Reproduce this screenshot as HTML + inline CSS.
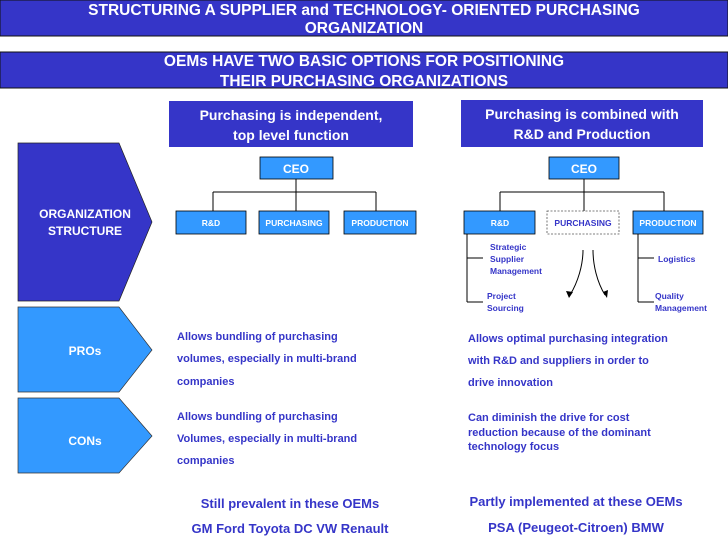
<!DOCTYPE html>
<html><head><style>
html,body{margin:0;padding:0;background:#fff}
svg{display:block;font-family:"Liberation Sans",Arial,sans-serif;font-weight:bold}
</style></head><body>
<svg width="728" height="546" viewBox="0 0 728 546" xmlns="http://www.w3.org/2000/svg">
<rect x="0" y="0" width="728" height="36" fill="#3535c8" stroke="#111" stroke-width="1"/>
<text x="364" y="15" text-anchor="middle" font-size="15.5" fill="#fff">STRUCTURING A SUPPLIER and TECHNOLOGY- ORIENTED PURCHASING</text>
<text x="364" y="33" text-anchor="middle" font-size="15.5" fill="#fff">ORGANIZATION</text>
<rect x="0" y="52" width="728" height="36" fill="#3535c8" stroke="#111" stroke-width="1"/>
<text x="364" y="66" text-anchor="middle" font-size="15.5" fill="#fff">OEMs HAVE TWO BASIC OPTIONS FOR POSITIONING</text>
<text x="364" y="86" text-anchor="middle" font-size="15.5" fill="#fff">THEIR PURCHASING ORGANIZATIONS</text>

<rect x="169" y="101" width="244" height="46" fill="#3535c8"/>
<text x="291" y="120" text-anchor="middle" font-size="14" fill="#fff">Purchasing is independent,</text>
<text x="291" y="140" text-anchor="middle" font-size="14" fill="#fff">top level function</text>
<rect x="461" y="100" width="242" height="47" fill="#3535c8"/>
<text x="582" y="119" text-anchor="middle" font-size="14" fill="#fff">Purchasing is combined with</text>
<text x="582" y="139" text-anchor="middle" font-size="14" fill="#fff">R&amp;D and Production</text>

<polygon points="18,143 119,143 152,222 119,301 18,301" fill="#3535c8" stroke="#222" stroke-width="0.7"/>
<text x="85" y="218" text-anchor="middle" font-size="12" fill="#fff">ORGANIZATION</text>
<text x="85" y="235" text-anchor="middle" font-size="12" fill="#fff">STRUCTURE</text>
<polygon points="18,307 119,307 152,350 119,392 18,392" fill="#3399ff" stroke="#333" stroke-width="0.7"/>
<text x="85" y="355" text-anchor="middle" font-size="12" fill="#fff">PROs</text>
<polygon points="18,398 119,398 152,436 119,473 18,473" fill="#3399ff" stroke="#333" stroke-width="0.7"/>
<text x="85" y="445" text-anchor="middle" font-size="12" fill="#fff">CONs</text>

<g stroke="#000" stroke-width="1" fill="none">
<path d="M296,179 V192 M213,192 H376 M213,192 V211 M296,192 V211 M376,192 V211"/>
<path d="M584,179 V192 M500,192 H664 M500,192 V211 M584,192 V211 M664,192 V211"/>
<path d="M467,234 V302 M467,258 H483 M467,302 H483"/>
<path d="M638,234 V302 M638,258 H654 M638,302 H654"/>
<path d="M583,250 C583,265 578,282 570,295 M593,250 C593,265 597,282 605,295"/>
</g>
<path d="M566,291 L569,298 L573,292 Z M603,292 L607,298 L608,290 Z" fill="#000"/>
<g fill="#3399ff" stroke="#000" stroke-width="0.8">
<rect x="260" y="157" width="73" height="22"/>
<rect x="176" y="211" width="70" height="23"/>
<rect x="259" y="211" width="70" height="23"/>
<rect x="344" y="211" width="72" height="23"/>
<rect x="549" y="157" width="70" height="22"/>
<rect x="464" y="211" width="71" height="23"/>
<rect x="633" y="211" width="70" height="23"/>
</g>
<rect x="547" y="211" width="72" height="23" fill="#fff" stroke="#555" stroke-width="0.8" stroke-dasharray="2,1.5"/>
<g font-size="12" fill="#fff" text-anchor="middle">
<text x="296" y="173">CEO</text><text x="584" y="173">CEO</text>
</g>
<g font-size="8.5" fill="#fff" text-anchor="middle">
<text x="211" y="226">R&amp;D</text>
<text x="294" y="226">PURCHASING</text>
<text x="380" y="226">PRODUCTION</text>
<text x="500" y="226">R&amp;D</text>
<text x="668" y="226">PRODUCTION</text>
</g>
<text x="583" y="226" font-size="8.5" fill="#3535c8" text-anchor="middle">PURCHASING</text>
<g font-size="8.5" fill="#3535c8">
<text x="490" y="250">Strategic</text><text x="490" y="262">Supplier</text><text x="490" y="274">Management</text>
<text x="487" y="299">Project</text><text x="487" y="311">Sourcing</text>
<text x="658" y="262">Logistics</text>
<text x="655" y="299">Quality</text><text x="655" y="311">Management</text>
</g>
<g font-size="11" fill="#3535c8">
<text x="177" y="340">Allows bundling of purchasing</text>
<text x="177" y="362">volumes, especially in multi-brand</text>
<text x="177" y="385">companies</text>
<text x="177" y="420">Allows bundling of purchasing</text>
<text x="177" y="442">Volumes, especially in multi-brand</text>
<text x="177" y="464">companies</text>
<text x="468" y="342">Allows optimal purchasing integration</text>
<text x="468" y="364">with R&amp;D and suppliers in order to</text>
<text x="468" y="386">drive innovation</text>
<text x="468" y="421">Can diminish the drive for cost</text>
<text x="468" y="436">reduction because of the dominant</text>
<text x="468" y="450">technology focus</text>
</g>
<g font-size="13" fill="#3535c8" text-anchor="middle">
<text x="290" y="508">Still prevalent in these OEMs</text>
<text x="290" y="533">GM Ford Toyota DC VW Renault</text>
<text x="576" y="506">Partly implemented at these OEMs</text>
<text x="576" y="532">PSA (Peugeot-Citroen) BMW</text>
</g>
</svg>
</body></html>
